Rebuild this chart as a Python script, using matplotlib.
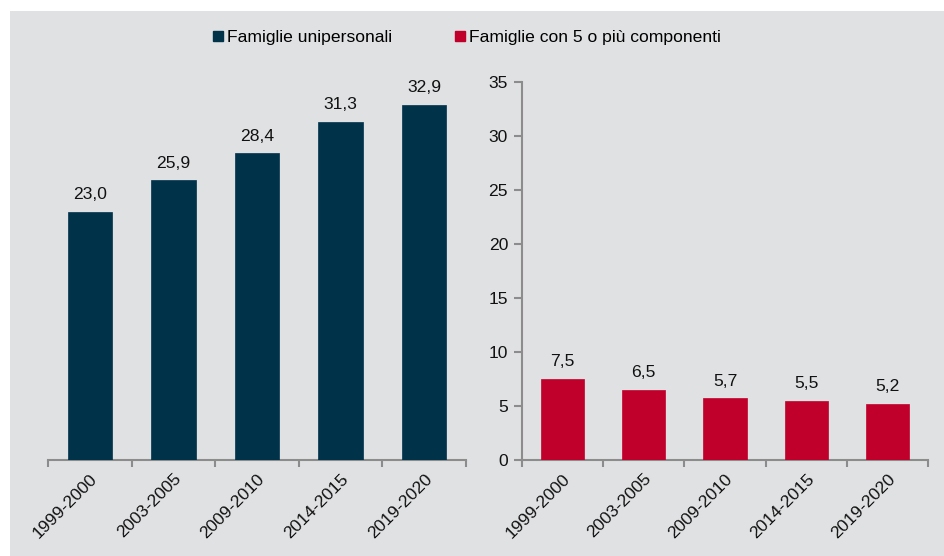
import matplotlib
matplotlib.use("Agg")
import matplotlib.pyplot as plt
from matplotlib.patches import Rectangle
from matplotlib.lines import Line2D
import numpy as np

plt.rcParams['font.family'] = ['Liberation Sans', 'DejaVu Sans']

periods = ["1999-2000", "2003-2005", "2009-2010", "2014-2015", "2019-2020"]
unipersonali = [23.0, 25.9, 28.4, 31.3, 32.9]
cinque_piu = [7.5, 6.5, 5.7, 5.5, 5.2]
series_names = ["Famiglie unipersonali", "Famiglie con 5 o più componenti"]
colors = ["#00324A", "#C0002B"]
yticks = [0, 5, 10, 15, 20, 25, 30, 35]

W, H = 944, 556
fig = plt.figure(figsize=(W / 100, H / 100), dpi=100)
fig.patch.set_facecolor("white")
bg = "#E0E1E3"
fig.patches.append(Rectangle((10 / W, 0), 1 - 10 / W, 1 - 11 / H,
                             transform=fig.transFigure, facecolor=bg,
                             edgecolor="none", zorder=-10))

y0 = (H - 460) / H
hgt = (460 - 82) / H
ax1 = fig.add_axes([48 / W, y0, (466 - 48) / W, hgt])
ax2 = fig.add_axes([522 / W, y0, (928 - 522) / W, hgt])

spine_col = "#8C8C8C"
fs = 12.6

def style(ax, values, color, show_y):
    ax.set_facecolor("none")
    x = np.arange(len(values))
    ax.bar(x, values, width=0.53, color=color, edgecolor=color,
           linewidth=0.5, zorder=3)
    ax.set_xlim(-0.5, len(values) - 0.5)
    ax.set_ylim(0, 35)
    for s in ["top", "right"]:
        ax.spines[s].set_visible(False)
    ax.spines["bottom"].set_color(spine_col)
    ax.spines["bottom"].set_linewidth(1.5)
    ax.set_xticks(x)
    ax.set_xticklabels(periods, rotation=45, ha="right",
                       rotation_mode="anchor", fontsize=fs, color="#111111")
    ax.tick_params(axis="x", which="major", length=0, pad=8)
    ax.set_xticks(np.arange(-0.5, len(values), 1.0), minor=True)
    ax.tick_params(axis="x", which="minor", length=5, width=1.5,
                   color=spine_col, direction="out")
    if show_y:
        ax.spines["left"].set_color(spine_col)
        ax.spines["left"].set_linewidth(1.5)
        ax.set_yticks(yticks)
        ax.set_yticklabels([str(t) for t in yticks], fontsize=fs,
                           color="#111111")
        ax.tick_params(axis="y", length=6, width=1.5, color=spine_col,
                       pad=4)
    else:
        ax.spines["left"].set_visible(False)
        ax.set_yticks([])
    for xi, v in zip(x, values):
        ax.annotate(f"{v:.1f}".replace(".", ","), (xi, v),
                    xytext=(0, 7), textcoords="offset points",
                    ha="center", va="bottom", fontsize=fs, color="#111111")

style(ax1, unipersonali, colors[0], False)
style(ax2, cinque_piu, colors[1], True)

handles = [Line2D([], [], marker="s", linestyle="none", markersize=7,
                  markerfacecolor=c, markeredgecolor=c) for c in colors]
fig.legend(handles, series_names, loc="center", ncol=2,
           bbox_to_anchor=(467 / W, 1 - 37.5 / H), frameon=False,
           fontsize=fs, handlelength=0.6, handletextpad=0.2,
           columnspacing=3.6)

fig.savefig("out.png", dpi=100, facecolor=fig.get_facecolor())
